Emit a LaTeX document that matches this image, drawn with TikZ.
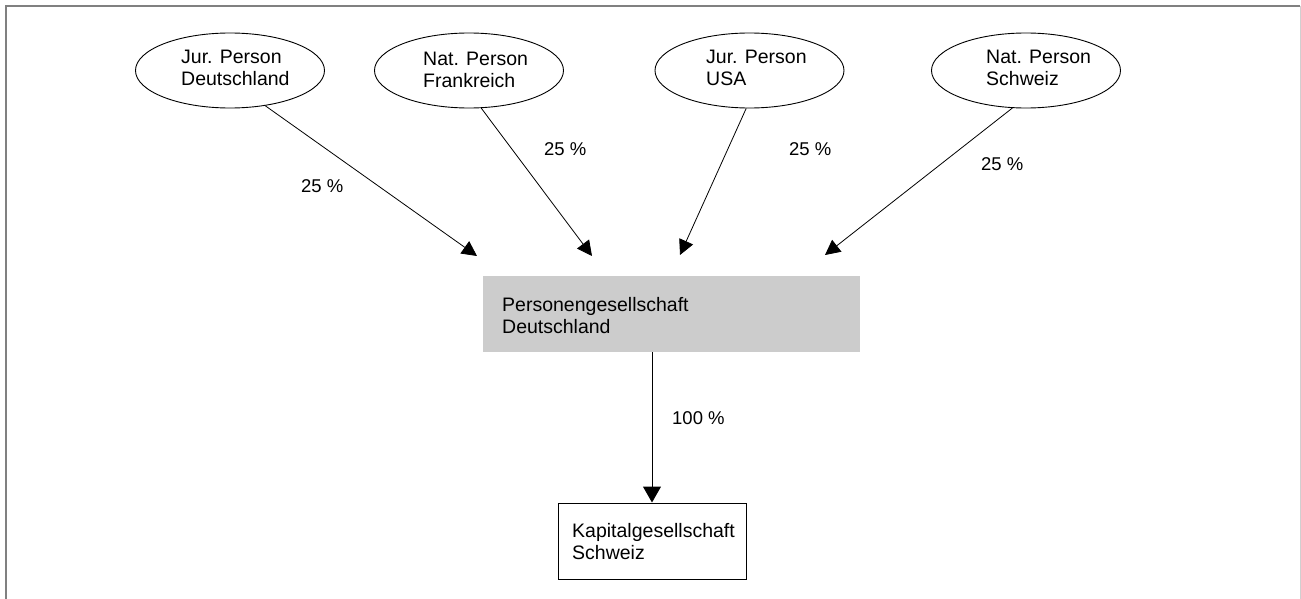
\documentclass[tikz,border=0pt]{standalone}
\usepackage{fontspec}
\setmainfont{Liberation Sans}
\usetikzlibrary{arrows.meta,shapes.geometric}
\definecolor{boxgray}{HTML}{CCCCCC}
\definecolor{framegray}{HTML}{808080}
\definecolor{framelight}{HTML}{D0D0D0}
\begin{document}
\begin{tikzpicture}[x=1pt,y=-1pt,
  person/.style={draw=black, line width=0.9pt, ellipse, minimum width=189pt, minimum height=75pt, inner sep=0pt},
  txt/.style={anchor=base west, inner sep=0pt, align=left, font=\fontsize{19.5}{22}\selectfont},
  boxtxt/.style={anchor=base west, inner sep=0pt, align=left, font=\fontsize{19.5}{21.5}\selectfont},
  pct/.style={anchor=base west, inner sep=0pt, font=\fontsize{18.5}{22}\selectfont},
  link/.style={draw=black, line width=0.8pt, -{Triangle[length=15pt,width=15pt]}},
]
\useasboundingbox (0,0) rectangle (1301,599);
\draw[framegray, line width=2pt] (6,599) -- (6,6) -- (1300,6);
\draw[framelight, line width=1pt] (1300,6) -- (1300,599);

% owners
\node[person] (e1) at (230,70.5) {};
\node[person] (e2) at (469,70.5) {};
\node[person] (e3) at (749.5,70.5) {};
\node[person] (e4) at (1026,70.5) {};
\node[txt] (t1) at (181,86) {Jur. Person\\Deutschland};
\node[txt] (t2) at (423,88) {Nat. Person\\Frankreich};
\node[txt] (t3) at (706,86) {Jur. Person\\USA};
\node[txt] (t4) at (986,86) {Nat. Person\\Schweiz};

% partnership
\node[fill=boxgray, minimum width=377pt, minimum height=76pt, inner sep=0pt] (p) at (671.5,314) {};
\node[boxtxt] (tp) at (502,333) {Personengesellschaft\\Deutschland};

% company
\node[draw=black, line width=1pt, minimum width=188pt, minimum height=76pt, inner sep=0pt] (k) at (652,541) {};
\node[boxtxt] (tk) at (572,559) {Kapitalgesellschaft\\Schweiz};

% arrow ends
\coordinate (c1) at (477,256);
\coordinate (c2) at (592,256);
\coordinate (c3) at (680,255);
\coordinate (c4) at (825,255);

\draw[link] (e1.-45) -- (c1);
\draw[link] (e2.-72) -- (c2);
\draw[link] (e3.-95) -- (c3);
\draw[link] (e4.-110) -- (c4);
\draw[link, line width=1pt, -{Triangle[length=16pt,width=18pt]}] (p.south -| k.north) -- (k.north);

% labels
\node[pct] (l1) at (301,193) {25 \%};
\node[pct] (l2) at (544,156) {25 \%};
\node[pct] (l3) at (789,156) {25 \%};
\node[pct] (l4) at (981,170) {25 \%};
\node[pct] (l5) at (672,424) {100 \%};
\end{tikzpicture}
\end{document}
